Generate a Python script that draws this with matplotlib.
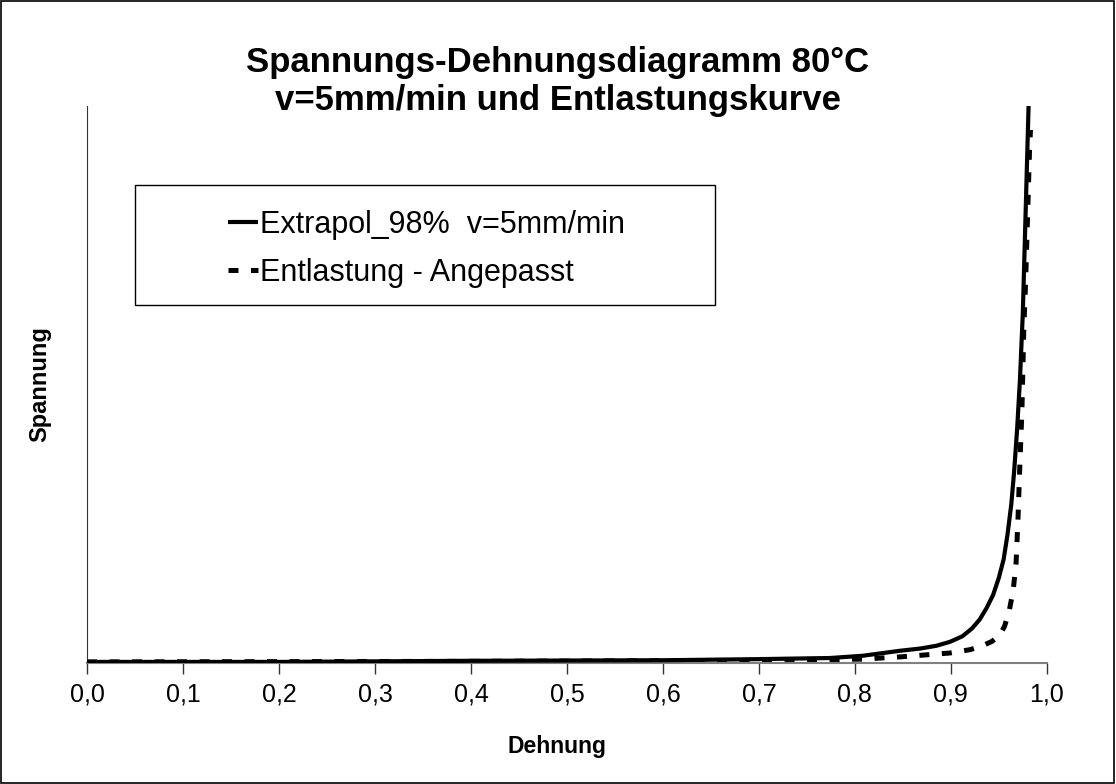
import matplotlib
matplotlib.use("Agg")
import matplotlib.pyplot as plt
from matplotlib.patches import Rectangle

plt.rcParams['font.family'] = ['Liberation Sans', 'DejaVu Sans']

# Extrapol_98% v=5mm/min (Dehnung, Spannung in relativen Einheiten)
ext_x = [0.0, 0.2, 0.4, 0.6, 0.7, 0.774, 0.808, 0.847, 0.868, 0.885, 0.899, 0.912,
         0.922, 0.930, 0.937, 0.944, 0.950, 0.955, 0.959, 0.963, 0.966, 0.969,
         0.972, 0.975, 0.978, 0.981]
ext_y = [0.2, 0.2, 0.4, 0.5, 0.7, 0.9, 1.3, 2.2, 2.6, 3.1, 3.8, 4.8,
         6.2, 7.8, 9.8, 12.2, 15.3, 18.6, 23.0, 28.5, 34.5, 41.8,
         50.8, 62.8, 81.3, 100.0]

# Entlastung - Angepasst
ent_x = [0.0, 0.4, 0.6, 0.7, 0.808, 0.847, 0.899, 0.920, 0.933, 0.943, 0.951,
         0.956, 0.961, 0.965, 0.968, 0.970, 0.972, 0.974, 0.976, 0.978, 0.982, 0.983]
ent_y = [0.2, 0.3, 0.4, 0.4, 0.7, 1.1, 1.8, 2.4, 3.1, 3.9, 5.0,
         6.6, 9.5, 13.1, 18.0, 26.0, 36.0, 44.9, 59.8, 68.8, 92.1, 95.7]

xticks = [i / 10 for i in range(11)]
xlabels = [f"{t:.1f}".replace(".", ",") for t in xticks]

fig = plt.figure(figsize=(11.16, 7.84), dpi=100)
fig.patches.append(Rectangle((0.0005, 0.0008), 0.998, 0.998, transform=fig.transFigure,
                             fill=False, edgecolor="black", linewidth=1.2))
ax = fig.add_axes([0.078, 0.1543, 0.86, 0.7105])

ax.plot(ext_x, ext_y, color="black", lw=3.0, solid_capstyle="butt",
        label="Extrapol_98%  v=5mm/min", zorder=3)
ax.plot(ent_x, ent_y, color="black", lw=3.6, dashes=(2, 2.5),
        label="Entlastung - Angepasst", zorder=2)

ax.set_xlim(0, 1)
ax.set_ylim(0, 100)
ax.set_xticks(xticks)
ax.set_xticklabels(xlabels, fontsize=18)
ax.set_yticks([])
ax.tick_params(axis="x", direction="out", length=8, width=1, color="#333333", pad=6)
for s in ["top", "right"]:
    ax.spines[s].set_visible(False)
ax.spines["left"].set_color("#333333")
ax.spines["bottom"].set_color("#808080")
ax.spines["bottom"].set_linewidth(1.5)

ax.set_xlabel("Dehnung", fontsize=16.5, fontweight="bold", labelpad=24)
ax.xaxis.set_label_coords(0.49, -0.13)
ax.set_ylabel("Spannung", fontsize=17, fontweight="bold", labelpad=26)

fig.text(0.5, 0.896, "Spannungs-Dehnungsdiagramm 80°C\nv=5mm/min und Entlastungskurve",
         ha="center", va="center", fontsize=25, fontweight="bold", linespacing=1.2)

# Legendenrahmen
ax.add_patch(Rectangle((0.05, 0.643), 0.604, 0.215, transform=ax.transAxes,
                       fill=False, edgecolor="black", linewidth=1.0, zorder=4))
leg = ax.legend(loc="upper left", bbox_to_anchor=(0.147, 0.813),
                fontsize=22, frameon=False, handlelength=0.98, handletextpad=0.07,
                borderpad=0, labelspacing=0.57, borderaxespad=0)

fig.savefig("out.png", dpi=100)
